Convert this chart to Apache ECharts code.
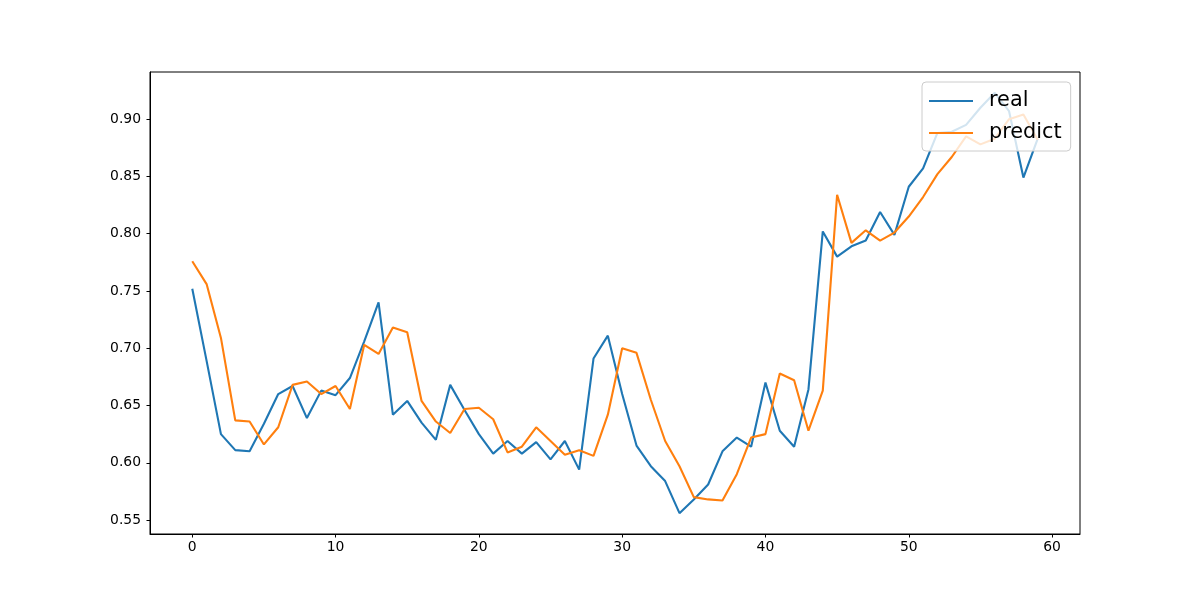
<!DOCTYPE html>
<html>
<head>
<meta charset="utf-8">
<script src="https://cdn.jsdelivr.net/npm/echarts@6/dist/echarts.min.js"></script>
<style>html,body{margin:0;padding:0;background:#fff;}#c{width:1200px;height:600px;}</style>
</head>
<body>
<div id="c"></div>
<script>
const real = [0.752, 0.689, 0.625, 0.611, 0.610, 0.634, 0.660, 0.667, 0.639, 0.663,
  0.659, 0.674, 0.706, 0.740, 0.642, 0.654, 0.635, 0.620, 0.668, 0.646,
  0.625, 0.608, 0.619, 0.608, 0.618, 0.603, 0.619, 0.594, 0.691, 0.711,
  0.660, 0.615, 0.597, 0.584, 0.556, 0.568, 0.581, 0.610, 0.622, 0.614,
  0.670, 0.628, 0.614, 0.664, 0.802, 0.780, 0.789, 0.794, 0.819, 0.799,
  0.841, 0.857, 0.888, 0.889, 0.895, 0.910, 0.923, 0.907, 0.849, 0.883];
const predict = [0.776, 0.756, 0.709, 0.637, 0.636, 0.616, 0.631, 0.668, 0.671, 0.660,
  0.667, 0.647, 0.703, 0.695, 0.718, 0.714, 0.654, 0.636, 0.626, 0.647,
  0.648, 0.638, 0.609, 0.614, 0.631, 0.619, 0.607, 0.611, 0.606, 0.642,
  0.700, 0.696, 0.655, 0.619, 0.597, 0.570, 0.568, 0.567, 0.590, 0.622,
  0.625, 0.678, 0.672, 0.628, 0.663, 0.834, 0.792, 0.803, 0.794, 0.801,
  0.815, 0.832, 0.852, 0.867, 0.885, 0.878, 0.883, 0.900, 0.904, 0.882];
const xTicks = [0, 10, 20, 30, 40, 50, 60];
const yTicks = [0.55, 0.60, 0.65, 0.70, 0.75, 0.80, 0.85, 0.90];
const seriesNames = ['real', 'predict'];

const font = 'DejaVu Sans';
const chart = echarts.init(document.getElementById('c'), null, {renderer: 'canvas'});
const toPairs = arr => arr.map((v, i) => [i, v]);
chart.setOption({
  animation: false,
  backgroundColor: '#ffffff',
  grid: {left: 150, right: 120, top: 72, bottom: 66, show: true, borderColor: '#000', borderWidth: 1, backgroundColor: 'transparent'},
  xAxis: {
    type: 'value', min: -2.95, max: 61.95,
    splitLine: {show: false},
    axisLine: {show: true, onZero: false, lineStyle: {color: '#000', width: 1}},
    axisTick: {show: true, length: 3.5, lineStyle: {color: '#000', width: 1}, customValues: xTicks},
    axisLabel: {color: '#000', fontFamily: font, fontSize: 13.9, margin: 6, customValues: xTicks}
  },
  yAxis: {
    type: 'value', min: 0.5378, max: 0.9412,
    splitLine: {show: false},
    axisLine: {show: true, onZero: false, lineStyle: {color: '#000', width: 1}},
    axisTick: {show: true, length: 3.5, lineStyle: {color: '#000', width: 1}, customValues: yTicks},
    axisLabel: {color: '#000', fontFamily: font, fontSize: 13.9, margin: 9, customValues: yTicks,
      formatter: v => v.toFixed(2)}
  },
  legend: {
    orient: 'vertical', left: 922, top: 82,
    padding: [7, 9, 6, 7],
    itemGap: 8, itemWidth: 44, itemHeight: 2,
    icon: 'rect',
    backgroundColor: 'rgba(255,255,255,0.8)',
    borderColor: '#cccccc', borderWidth: 1, borderRadius: 4,
    textStyle: {fontFamily: font, fontSize: 20.8, color: '#000', lineHeight: 24, padding: [0, 0, 0, 11]},
    data: seriesNames
  },
  series: [
    {name: seriesNames[0], type: 'line', data: toPairs(real), showSymbol: false, symbol: 'none',
      lineStyle: {color: '#1f77b4', width: 2.1}, itemStyle: {color: '#1f77b4'}},
    {name: seriesNames[1], type: 'line', data: toPairs(predict), showSymbol: false, symbol: 'none',
      lineStyle: {color: '#ff7f0e', width: 2.1}, itemStyle: {color: '#ff7f0e'}}
  ]
});
</script>
</body>
</html>
